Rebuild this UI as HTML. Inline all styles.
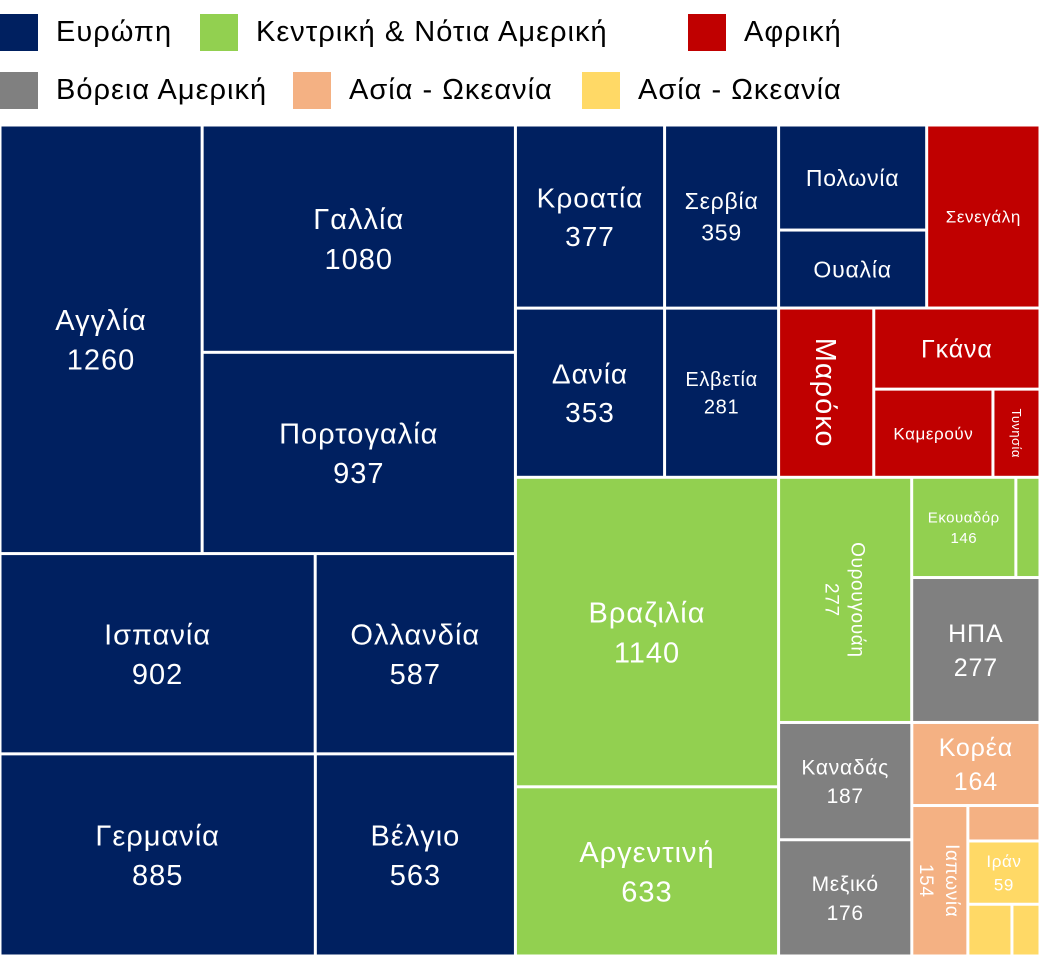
<!DOCTYPE html>
<html><head><meta charset="utf-8">
<style>
html,body{margin:0;padding:0;background:#fff;}
body{width:1041px;height:956px;overflow:hidden;position:relative;font-family:"Liberation Sans",sans-serif;}
.leg{position:absolute;display:flex;align-items:center;font-size:29px;letter-spacing:1px;color:#000;white-space:nowrap;}
.sw{width:38px;height:37px;margin-right:18px;flex:none;}
svg{position:absolute;left:0;top:0;}
</style></head><body>
<div class="leg" style="left:0;top:14px"><div class="sw" style="background:#002060"></div>Ευρώπη</div>
<div class="leg" style="left:200px;top:14px"><div class="sw" style="background:#92D050"></div>Κεντρική &amp; Νότια Αμερική</div>
<div class="leg" style="left:688px;top:14px"><div class="sw" style="background:#C00000"></div>Αφρική</div>
<div class="leg" style="left:0;top:72px"><div class="sw" style="background:#808080"></div>Βόρεια Αμερική</div>
<div class="leg" style="left:293px;top:72px"><div class="sw" style="background:#F4B183"></div>Ασία - Ωκεανία</div>
<div class="leg" style="left:582px;top:72px"><div class="sw" style="background:#FFD966"></div>Ασία - Ωκεανία</div>
<svg id="chart" width="1041" height="956"></svg>
<script>
const names = ["Αγγλία","Γαλλία","Πορτογαλία","Ισπανία","Ολλανδία","Γερμανία","Βέλγιο",
 "Κροατία","Δανία","Σερβία","Ελβετία","Πολωνία","Ουαλία","Σενεγάλη","Μαρόκο","Γκάνα","Καμερούν","Τυνησία",
 "Βραζιλία","Αργεντινή","Ουρουγουάη","Εκουαδόρ","","ΗΠΑ","Καναδάς","Μεξικό","Κορέα","Ιαπωνία","","Ιράν","",""];
const values = [1253,1030,912,913,580,922,585,
 395,365,302,279,225,167,300,233,195,152,60,
 1178,644,472,151,35,269,226,224,154,122,37,66,33,21];
const printed = ["1260","1080","937","902","587","885","563",
 "377","353","359","281","","","","","","","",
 "1140","633","277","146","","277","187","176","164","154","","59","",""];
const groups = [0,0,0,0,0,0,0, 0,0,0,0,0,0,2,2,2,2,2, 1,1,1,1,1,3,3,3,4,4,4,5,5,5];
const colors = ["#002060","#92D050","#C00000","#808080","#F4B183","#FFD966"];
const fontSizes = [29,29,29,29,29,29,29, 28,28,23,20,23,23,17,29,25,17,13, 29,29,19,15,0,25,21,21,25,19,0,17,0,0];
const rotated = [0,0,0,0,0,0,0, 0,0,0,0,0,0,0,1,0,0,1, 0,0,1,0,0,0,0,0,0,1,0,0,0,0];
// layout structure: 'h' = side by side, 'v' = stacked
const tree = {d:'h',c:[
  {d:'v',c:[{d:'h',c:[0,{d:'v',c:[1,2]}]},{d:'v',c:[{d:'h',c:[3,4]},{d:'h',c:[5,6]}]}]},
  {d:'v',c:[
    {d:'h',c:[{d:'v',c:[7,8]},{d:'v',c:[9,10]},
      {d:'v',c:[{d:'h',c:[{d:'v',c:[11,12]},13]},{d:'h',c:[14,{d:'v',c:[15,{d:'h',c:[16,17]}]}]}]}]},
    {d:'h',c:[{d:'v',c:[18,19]},
      {d:'v',c:[
        {d:'h',c:[20,{d:'v',c:[{d:'h',c:[21,22]},23]}]},
        {d:'h',c:[{d:'v',c:[24,25]},{d:'v',c:[26,{d:'h',c:[27,{d:'v',c:[28,29,{d:'h',c:[30,31]}]}]}]}]}
      ]}]}
  ]}
]};
const svg=document.getElementById('chart');
const NS="http://www.w3.org/2000/svg";
const X0=0,Y0=125,X1=1040,Y1=956;
function sum(n){return typeof n==='number'?values[n]:n.c.reduce((a,b)=>a+sum(b),0);}
const rects=[];
function layout(n,x,y,w,h){
  if(typeof n==='number'){rects[n]=[x,y,w,h];return;}
  const t=sum(n);let off=0;
  n.c.forEach(ch=>{const f=sum(ch)/t;
    if(n.d==='h'){layout(ch,x+off,y,w*f,h);off+=w*f;}
    else{layout(ch,x,y+off,w,h*f);off+=h*f;}});
}
layout(tree,X0,Y0,X1-X0,Y1-Y0);
rects.forEach((r,i)=>{
  const [x,y,w,h]=r;const g=1.5;
  const rc=document.createElementNS(NS,'rect');
  rc.setAttribute('x',x+g);rc.setAttribute('y',y+g);
  rc.setAttribute('width',Math.max(0,w-2*g));rc.setAttribute('height',Math.max(0,h-2*g));
  rc.setAttribute('fill',colors[groups[i]]);
  
  
  svg.appendChild(rc);
  if(!names[i])return;
  const fs=fontSizes[i];const cx=x+w/2,cy=y+h/2;
  const lines=printed[i]?[names[i],printed[i]]:[names[i]];
  const lh=fs*1.37;
  const tx=document.createElementNS(NS,'text');
  tx.setAttribute('fill','#fff');tx.setAttribute('font-size',fs);
  tx.setAttribute('font-family','Liberation Sans, sans-serif');
  tx.setAttribute('letter-spacing',(fs/29).toFixed(2));
  tx.setAttribute('text-anchor','middle');
  
  
  if(rotated[i])tx.setAttribute('transform','rotate(90 '+cx+' '+cy+')');
  lines.forEach((s,k)=>{
    const sp=document.createElementNS(NS,'tspan');
    sp.setAttribute('x',cx);
    sp.setAttribute('y',cy+(k-(lines.length-1)/2)*lh+fs*0.36);
    sp.textContent=s;tx.appendChild(sp);
  });
  svg.appendChild(tx);
});
</script>
</body></html>
